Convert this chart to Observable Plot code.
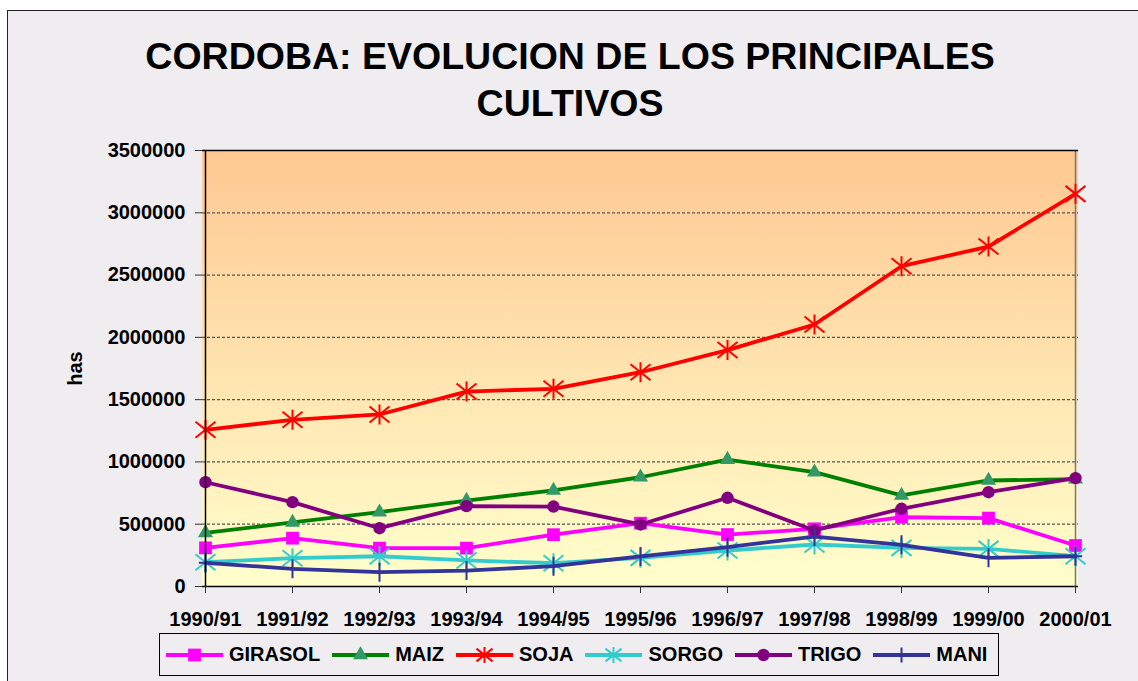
<!DOCTYPE html>
<html><head><meta charset="utf-8">
<script src="https://cdn.jsdelivr.net/npm/d3@7"></script>
<script src="https://cdn.jsdelivr.net/npm/@observablehq/plot@0.6"></script>
<style>
body{margin:0;background:#fff;}
#wrap{position:relative;width:1138px;height:681px;overflow:hidden;font-family:"Liberation Sans",Arial,sans-serif;}
#bg{position:absolute;left:7px;top:10px;width:1200px;height:720px;background:#EFEDEF;border-left:1.5px solid #222;border-top:1.5px solid #222;}
#title{position:absolute;left:0;top:33px;width:1140px;text-align:center;font-weight:bold;font-size:37.5px;line-height:47px;color:#000;}
#chart{position:absolute;left:0;top:130px;}
#legend{position:absolute;left:159px;top:633px;width:840px;height:43px;border:1px solid #000;box-sizing:border-box;display:flex;align-items:center;gap:12px;padding-left:6px;}
#legend .item{display:flex;align-items:center;gap:6px;font-weight:bold;font-size:20px;color:#000;}
#legend svg{display:block;}
</style></head>
<body>
<div id="wrap">
  <div id="bg"></div>
  <div id="title">CORDOBA: EVOLUCION DE LOS PRINCIPALES<br>CULTIVOS</div>
  <div id="chart"></div>
  <div id="legend"></div>
</div>
<script>
// ---- data ----
const years = ["1990/91","1991/92","1992/93","1993/94","1994/95","1995/96","1996/97","1997/98","1998/99","1999/00","2000/01"];
const seriesNames = ["GIRASOL","MAIZ","SOJA","SORGO","TRIGO","MANI"];
const girasol = [310000, 388000, 308000, 308000, 416000, 508000, 417000, 463000, 556000, 549000, 329000];
const maiz    = [431000, 514000, 597000, 690000, 771000, 877000, 1019000, 918000, 731000, 851000, 862000];
const soja    = [1258000, 1338000, 1381000, 1565000, 1587000, 1720000, 1898000, 2103000, 2571000, 2729000, 3152000];
const sorgo   = [195000, 227000, 243000, 209000, 187000, 230000, 289000, 337000, 310000, 302000, 243000];
const trigo   = [837000, 677000, 468000, 645000, 642000, 498000, 712000, 450000, 624000, 757000, 870000];
const mani    = [190000, 142000, 115000, 128000, 163000, 241000, 316000, 401000, 335000, 230000, 243000];
const yTicks  = [0, 500000, 1000000, 1500000, 2000000, 2500000, 3000000, 3500000];
const yLabel  = "has";

// ---- styles ----
const starSymbol = {draw(ctx, size){ const h = Math.sqrt(size/Math.PI);
  ctx.moveTo(0,-h); ctx.lineTo(0,h);
  ctx.moveTo(-h,-h*0.8); ctx.lineTo(h,h*0.8);
  ctx.moveTo(-h,h*0.8); ctx.lineTo(h,-h*0.8);}};
const plusSymbol = {draw(ctx, size){ const h = Math.sqrt(size/Math.PI);
  ctx.moveTo(0,-h); ctx.lineTo(0,h);
  ctx.moveTo(-h*0.7,0); ctx.lineTo(h*0.7,0);}};
const styles = {
  GIRASOL:{line:"#FF00FF", mark:"#FF00FF", symbol:"square",   r:7.2, filled:true},
  MAIZ:   {line:"#008000", mark:"#339966", symbol:"triangle", r:5.6, filled:true},
  SOJA:   {line:"#FF0000", mark:"#FF0000", symbol:starSymbol, r:10,  filled:false},
  SORGO:  {line:"#33CCCC", mark:"#33CCCC", symbol:starSymbol, r:10,  filled:false},
  TRIGO:  {line:"#800080", mark:"#800080", symbol:"circle",   r:6.2, filled:true},
  MANI:   {line:"#333399", mark:"#333399", symbol:plusSymbol, r:9.5, filled:false}
};
const values = {GIRASOL:girasol, MAIZ:maiz, SOJA:soja, SORGO:sorgo, TRIGO:trigo, MANI:mani};
const font = '"Liberation Sans", Arial, sans-serif';

const rows = seriesNames.flatMap(name => years.map((yr, j) => ({series:name, year:yr, value:values[name][j]})));

function gradientBg(index, scales, vals, dims){
  const g = d3.create("svg:g");
  const lg = g.append("defs").append("linearGradient").attr("id","bggrad")
    .attr("x1",0).attr("y1",0).attr("x2",0).attr("y2",1);
  lg.append("stop").attr("offset","0%").attr("stop-color","#FFC892");
  lg.append("stop").attr("offset","100%").attr("stop-color","#FFFFCC");
  g.append("rect").attr("x",dims.marginLeft).attr("y",dims.marginTop)
    .attr("width",dims.width-dims.marginLeft-dims.marginRight)
    .attr("height",dims.height-dims.marginTop-dims.marginBottom)
    .attr("fill","url(#bggrad)");
  return g.node();
}

const seriesMarks = seriesNames.flatMap(name => {
  const s = styles[name];
  const data = rows.filter(d => d.series === name);
  return [
    Plot.line(data, {x:"year", y:"value", stroke:s.line, strokeWidth:3.8, strokeLinejoin:"round"}),
    Plot.dot(data, s.filled
      ? {x:"year", y:"value", symbol:s.symbol, r:s.r, fill:s.mark, stroke:"none"}
      : {x:"year", y:"value", symbol:s.symbol, r:s.r, fill:"none", stroke:s.mark, strokeWidth:2})
  ];
});

const chart = Plot.plot({
  width:1138, height:500,
  marginLeft:202, marginRight:60, marginTop:20, marginBottom:44,
  style:{background:"transparent", fontFamily:font, fontSize:"20px", fontWeight:"bold", color:"#000"},
  x:{type:"point", domain:years, padding:0},
  y:{domain:[0,3500000]},
  marks:[
    gradientBg,
    Plot.ruleY(yTicks.filter(d => d > 0 && d < 3500000), {stroke:"#555", strokeDasharray:"3,2", strokeWidth:1.2}),
    Plot.ruleX([years[years.length-1]], {stroke:"#777", strokeWidth:1.5}),
    Plot.ruleY([3500000], {stroke:"#000", strokeWidth:1.5}),
    ...seriesMarks,
    Plot.ruleY([0], {stroke:"#000", strokeWidth:1.5}),
    Plot.ruleX([years[0]], {stroke:"#000", strokeWidth:1.5}),
    Plot.axisY({ticks:yTicks, tickFormat:d3.format("d"), tickSize:7, tickPadding:10, fontSize:20, fontWeight:"bold", fill:"#000", stroke:"#333", label:null}),
    Plot.axisX({tickSize:7, tickPadding:18, fontSize:20, fontWeight:"bold", fill:"#000", stroke:"#333", label:null}),
    Plot.text([yLabel], {frameAnchor:"left", dx:-127, rotate:-90, textAnchor:"middle", lineAnchor:"middle", fontSize:20, fontWeight:"bold", fill:"#000"})
  ]
});
document.getElementById("chart").appendChild(chart);

// ---- legend ----
const legend = d3.select("#legend");
seriesNames.forEach(name => {
  const s = styles[name];
  const item = legend.append("div").attr("class","item");
  const svg = item.append("svg").attr("width",57).attr("height",22);
  svg.append("line").attr("x1",0).attr("x2",57).attr("y1",11).attr("y2",11)
    .attr("stroke",s.line).attr("stroke-width",3.8);
  const sym = typeof s.symbol === "string" ? d3["symbol" + s.symbol[0].toUpperCase() + s.symbol.slice(1)] : s.symbol;
  const rr = s.filled ? s.r : s.r * 0.8;
  svg.append("path").attr("transform","translate(28.5,11)")
    .attr("d", d3.symbol(sym, Math.PI*rr*rr)())
    .attr("fill", s.filled ? s.mark : "none")
    .attr("stroke", s.filled ? "none" : s.mark)
    .attr("stroke-width", 2);
  item.append("span").text(name);
});
</script>
</body></html>
